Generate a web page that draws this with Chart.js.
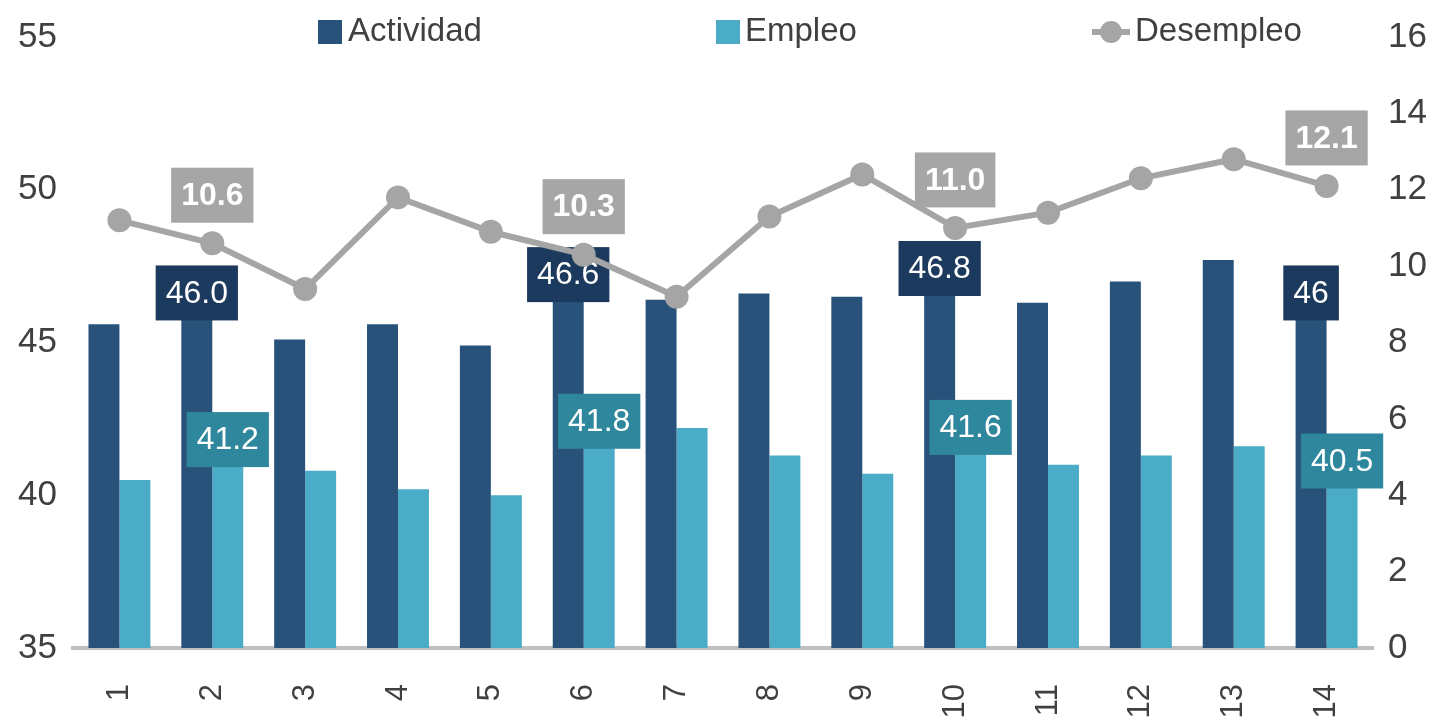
<!DOCTYPE html>
<html>
<head>
<meta charset="utf-8">
<script src="https://cdn.jsdelivr.net/npm/chart.js@4.4.1/dist/chart.umd.min.js"></script>
<style>
  body { margin: 0; background: #fff; }
  canvas { display: block; }
</style>
</head>
<body>
<canvas id="laborChart" width="1434" height="725"></canvas>
<script>
// --- data ---
const categories = ['1', '2', '3', '4', '5', '6', '7', '8', '9', '10', '11', '12', '13', '14'];
const actividad = [45.6, 46.0, 45.1, 45.6, 44.9, 46.6, 46.4, 46.6, 46.5, 46.8, 46.3, 47.0, 47.7, 46.0];
const empleo = [40.5, 41.2, 40.8, 40.2, 40.0, 41.8, 42.2, 41.3, 40.7, 41.6, 41.0, 41.3, 41.6, 40.5];
const desempleo = [11.2, 10.6, 9.4, 11.8, 10.9, 10.3, 9.2, 11.3, 12.4, 11.0, 11.4, 12.3, 12.8, 12.1];
const labeledPoints = [1, 5, 9, 13]; // which categories carry a value box

const leftAxis = { min: 35, max: 55, step: 5 };
const rightAxis = { min: 0, max: 16, step: 2 };

const colorActividad = '#29527a';
const colorEmpleo = '#4aacc6';
const colorDesempleo = '#a5a5a5';
const textColor = '#404040';
const fontFamily = '"Liberation Sans", Arial, sans-serif';

// value boxes drawn above bars / points
function drawTag(ctx, x, cy, text, bg, bold) {
    ctx.save();
    ctx.font = (bold ? 'bold ' : '') + '32px ' + fontFamily;
    const w = ctx.measureText(text).width + 20;
    const h = 55;
    ctx.fillStyle = bg;
    ctx.fillRect(x - w / 2, cy - h / 2, w, h);
    ctx.fillStyle = '#ffffff';
    ctx.textAlign = 'center';
    ctx.textBaseline = 'middle';
    ctx.fillText(text, x, cy + 1);
    ctx.restore();
}

function fmt(v) {
    // the last Actividad box in the original is cut to the integer part
    return v.toFixed(1);
}

const tagPlugin = {
    id: 'tags',
    beforeDatasetDraw(chart, args) {
        if (args.meta.type !== 'line') return;
        const ctx = chart.ctx;
        // bar boxes sit under the line
        [[1, '#1c3a5e'], [2, '#2e879c']].forEach(([ds, bg]) => {
            const meta = chart.getDatasetMeta(ds);
            labeledPoints.forEach(i => {
                const bar = meta.data[i];
                const v = chart.data.datasets[ds].data[i];
                let txt = fmt(v);
                if (ds === 1 && i === categories.length - 1) txt = String(Math.round(v));
                drawTag(ctx, bar.x, bar.y - 19, txt, bg, false);
            });
        });
    },
    afterDatasetsDraw(chart) {
        const ctx = chart.ctx;
        const meta = chart.getDatasetMeta(0);
        labeledPoints.forEach(i => {
            const pt = meta.data[i];
            drawTag(ctx, pt.x, pt.y - 48, fmt(desempleo[i]), '#a6a6a6', true);
        });
    },
    afterDraw(chart) {
        // legend across the top row
        const ctx = chart.ctx;
        ctx.save();
        ctx.font = '33px ' + fontFamily;
        ctx.textBaseline = 'middle';
        ctx.fillStyle = textColor;
        const y = 32;
        ctx.fillStyle = colorActividad;
        ctx.fillRect(318, y - 12, 24, 24);
        ctx.fillStyle = textColor;
        ctx.fillText('Actividad', 348, y);

        ctx.fillStyle = colorEmpleo;
        ctx.fillRect(716, y - 12, 24, 24);
        ctx.fillStyle = textColor;
        ctx.fillText('Empleo', 745, y);

        ctx.strokeStyle = colorDesempleo;
        ctx.lineWidth = 6;
        ctx.beginPath();
        ctx.moveTo(1092, y);
        ctx.lineTo(1130, y);
        ctx.stroke();
        ctx.fillStyle = colorDesempleo;
        ctx.beginPath();
        ctx.arc(1111, y, 11, 0, Math.PI * 2);
        ctx.fill();
        ctx.fillStyle = textColor;
        ctx.fillText('Desempleo', 1135, y);
        ctx.restore();
    }
};

const ctx = document.getElementById('laborChart').getContext('2d');

new Chart(ctx, {
    type: 'bar',
    data: {
        labels: categories,
        datasets: [
            {
                type: 'line',
                label: 'Desempleo',
                data: desempleo,
                yAxisID: 'y1',
                borderColor: colorDesempleo,
                backgroundColor: colorDesempleo,
                borderWidth: 6,
                pointRadius: 12,
                pointBackgroundColor: colorDesempleo,
                pointBorderWidth: 0,
                tension: 0,
                order: 0
            },
            {
                label: 'Actividad',
                data: actividad,
                yAxisID: 'y',
                backgroundColor: colorActividad,
                categoryPercentage: 0.667,
                barPercentage: 1.0,
                order: 1
            },
            {
                label: 'Empleo',
                data: empleo,
                yAxisID: 'y',
                backgroundColor: colorEmpleo,
                categoryPercentage: 0.667,
                barPercentage: 1.0,
                order: 1
            }
        ]
    },
    options: {
        responsive: false,
        animation: false,
        layout: { padding: { top: 30, bottom: 0, left: 0, right: 0 } },
        plugins: {
            legend: { display: false },
            tooltip: { enabled: false }
        },
        scales: {
            x: {
                grid: { display: false, drawTicks: false },
                border: { display: true, color: '#bfbfbf', width: 4 },
                ticks: {
                    minRotation: 90,
                    maxRotation: 90,
                    padding: 36,
                    color: textColor,
                    font: { family: fontFamily, size: 31 }
                },
                afterFit: s => { s.height = 77; }
            },
            y: {
                position: 'left',
                min: leftAxis.min,
                max: leftAxis.max,
                grid: { display: false, drawTicks: false },
                border: { display: false },
                ticks: {
                    stepSize: leftAxis.step,
                    padding: 16,
                    color: textColor,
                    font: { family: fontFamily, size: 35 }
                },
                afterFit: s => { s.width = 73; }
            },
            y1: {
                position: 'right',
                min: rightAxis.min,
                max: rightAxis.max,
                grid: { display: false, drawTicks: false },
                border: { display: false },
                ticks: {
                    stepSize: rightAxis.step,
                    padding: 15,
                    color: textColor,
                    font: { family: fontFamily, size: 35 }
                },
                afterFit: s => { s.width = 61; }
            }
        }
    },
    plugins: [tagPlugin]
});
</script>
</body>
</html>
